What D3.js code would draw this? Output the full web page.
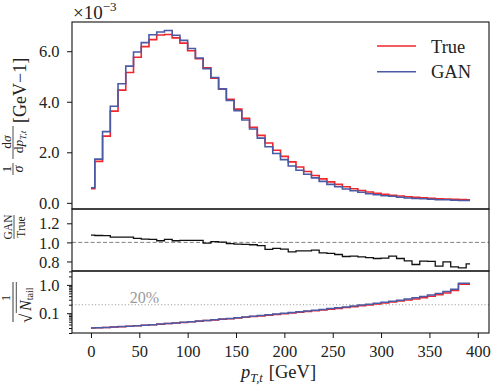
<!DOCTYPE html>
<html><head><meta charset="utf-8">
<script src="https://cdn.jsdelivr.net/npm/d3@7"></script>
<style>
body{margin:0;background:#fff;}
text{font-family:"Liberation Serif","Times New Roman",serif;fill:#222;}
</style></head>
<body><svg id="c" width="497" height="391"></svg>
<script>
// ---- data ----
const ptCenters = d3.range(0, 393, 8); // 0..392, 50 points
const trueVals = [0.56,1.64,2.64,3.63,4.46,5.16,5.76,6.18,6.46,6.64,
  6.66,6.53,6.32,6.02,5.70,5.34,4.93,4.50,4.10,3.71,
  3.35,2.99,2.67,2.37,2.08,1.84,1.62,1.42,1.24,1.08,
  0.95,0.83,0.73,0.64,0.56,0.49,0.43,0.38,0.34,0.30,
  0.27,0.24,0.22,0.20,0.18,0.16,0.15,0.14,0.13,0.12];
const ganVals = [0.60,1.73,2.82,3.82,4.71,5.41,5.97,6.34,6.65,6.76,
  6.82,6.63,6.43,6.11,5.73,5.31,4.96,4.51,4.05,3.65,
  3.28,2.92,2.56,2.22,1.95,1.71,1.46,1.29,1.13,0.99,
  0.85,0.73,0.64,0.55,0.48,0.42,0.36,0.32,0.28,0.26,
  0.22,0.19,0.17,0.16,0.14,0.12,0.12,0.10,0.095,0.093];
const ratioVals = [1.077,1.072,1.070,1.056,1.056,1.056,1.042,1.035,1.031,1.017,
  1.031,1.017,1.021,1.021,1.021,0.993,1.007,1.003,0.986,0.982,
  0.979,0.975,0.965,0.926,0.937,0.930,0.900,0.910,0.912,0.918,
  0.890,0.884,0.873,0.852,0.856,0.849,0.840,0.831,0.835,0.856,
  0.831,0.807,0.768,0.803,0.800,0.751,0.796,0.743,0.733,0.775];
const tailGAN = [0.0300,0.0309,0.0316,0.0325,0.0336,0.0348,0.0362,0.0378,0.0394,0.0413,
  0.0434,0.0455,0.0478,0.0502,0.0528,0.0557,0.0587,0.0619,0.0655,0.0692,
  0.0733,0.0776,0.0824,0.0875,0.0929,0.0989,0.105,0.112,0.119,0.127,
  0.136,0.146,0.156,0.167,0.180,0.194,0.209,0.226,0.245,0.266,
  0.290,0.318,0.351,0.389,0.44,0.50,0.58,0.70,1.15,1.15];
const tailTrue = [0.0300,0.0308,0.0315,0.0324,0.0335,0.0347,0.0360,0.0376,0.0392,0.0410,
  0.0430,0.0451,0.0473,0.0497,0.0522,0.0550,0.0579,0.0610,0.0644,0.0680,
  0.0718,0.0760,0.0805,0.0853,0.0905,0.0962,0.102,0.108,0.115,0.122,
  0.130,0.139,0.148,0.158,0.170,0.182,0.196,0.211,0.228,0.247,
  0.268,0.292,0.320,0.352,0.395,0.45,0.52,0.63,1.06,1.06];
const xTicks = [0,50,100,150,200,250,300,350,400];
const mainTicks = [0,2,4,6];
const ratioTicks = [0.8,1.0,1.2];
const tailMajor = [0.1,1];
const tailMinor = [0.02,0.03,0.04,0.05,0.06,0.07,0.08,0.09,0.2,0.3,0.4,0.5,0.6,0.7,0.8,0.9,2,3];
const legendItems = [{label:"True", color:"#f0262d"},{label:"GAN", color:"#4b5aa5"}];

// ---- layout ----
const L=72, R=489, T=22, B1=209, B2=271, B3=333;
const svg = d3.select("#c");
const x = d3.scaleLinear().domain([-19.6, 411.6]).range([L, R]);
const allMain = trueVals.concat(ganVals);
const mn = d3.min(allMain), mx = d3.max(allMain), pad = (mx-mn)*0.05;
const yMain = d3.scaleLinear().domain([mn-pad, mx+pad]).range([B1, T]);
const yRatio = d3.scaleLinear().domain([0.70, 1.35]).range([B2, B1]);
const yTail = d3.scaleLog().domain([0.02, 3.1]).range([B3, B2]);

function stepLine(ys, ysc){
  return d3.line().curve(d3.curveStep).x((d,i)=>x(ptCenters[i])).y(d=>ysc(d))(ys);
}
function clip(id, y0, y1){
  svg.append("clipPath").attr("id",id).append("rect").attr("x",L).attr("y",y0).attr("width",R-L).attr("height",y1-y0);
}
clip("c1",T,B1); clip("c2",B1,B2); clip("c3",B2,B3);

// main panel
const g1 = svg.append("g").attr("clip-path","url(#c1)");
g1.append("path").attr("d",stepLine(trueVals,yMain)).attr("fill","none").attr("stroke",legendItems[0].color).attr("stroke-width",1.6);
g1.append("path").attr("d",stepLine(ganVals,yMain)).attr("fill","none").attr("stroke",legendItems[1].color).attr("stroke-width",1.6);

// ratio panel
const g2 = svg.append("g").attr("clip-path","url(#c2)");
g2.append("line").attr("x1",L).attr("x2",R).attr("y1",yRatio(1)).attr("y2",yRatio(1))
  .attr("stroke","#808080").attr("stroke-width",1).attr("stroke-dasharray","4,2.2");
g2.append("path").attr("d",stepLine(ratioVals,yRatio)).attr("fill","none").attr("stroke","#111").attr("stroke-width",1.3);

// tail panel
const g3 = svg.append("g").attr("clip-path","url(#c3)");
g3.append("line").attr("x1",L).attr("x2",R).attr("y1",yTail(0.2)).attr("y2",yTail(0.2))
  .attr("stroke","#999").attr("stroke-width",1.1).attr("stroke-dasharray","1.1,2.2");
g3.append("path").attr("d",stepLine(tailTrue,yTail)).attr("fill","none").attr("stroke",legendItems[0].color).attr("stroke-width",1.5);
g3.append("path").attr("d",stepLine(tailGAN,yTail)).attr("fill","none").attr("stroke",legendItems[1].color).attr("stroke-width",1.5);
svg.append("text").attr("x",x(40)).attr("y",yTail(0.2)-2).attr("font-size",16).style("fill","#999").text("20%");

// frames
[[T,B1],[B1,B2],[B2,B3]].forEach(([a,b])=>{
  svg.append("rect").attr("x",L).attr("y",a).attr("width",R-L).attr("height",b-a)
    .attr("fill","none").attr("stroke","#111").attr("stroke-width",1.1);
});

// axes
function styleAxis(g){ g.select(".domain").remove(); g.selectAll("line").attr("stroke","#111").attr("stroke-width",1); }
const ax = svg.append("g").attr("transform",`translate(0,${B3})`)
  .call(d3.axisBottom(x).tickValues(xTicks).tickSize(5).tickFormat(d3.format("d")));
styleAxis(ax);
ax.selectAll("text").attr("y",24).attr("dy",0).attr("font-size",16.5).style("fill","#222");

function yAxis(scale, ticks, fmt){
  const g = svg.append("g").attr("transform",`translate(${L},0)`)
    .call(d3.axisLeft(scale).tickValues(ticks).tickSize(5).tickFormat(fmt));
  styleAxis(g);
  g.selectAll("text").attr("x",-12.5).attr("dy","0.34em").attr("font-size",16.5).style("fill","#222");
  return g;
}
yAxis(yMain, mainTicks, d3.format(".1f"));
yAxis(yRatio, ratioTicks, d3.format(".1f"));
yAxis(yTail, tailMajor, d3.format(".1f"));
const gm = svg.append("g").attr("transform",`translate(${L},0)`)
  .call(d3.axisLeft(yTail).tickValues(tailMinor).tickSize(3).tickFormat(""));
styleAxis(gm);

// x10^-3
const ex = svg.append("text").attr("x",L+1).attr("y",19).attr("font-size",19);
ex.append("tspan").text("×10");
ex.append("tspan").attr("font-size",13).attr("dy",-8).text("−3");

// legend
legendItems.forEach((d,i)=>{
  const yy = 46 + i*25.7;
  svg.append("line").attr("x1",377).attr("x2",416).attr("y1",yy).attr("y2",yy).attr("stroke",d.color).attr("stroke-width",1.6);
  svg.append("text").attr("x",431).attr("y",yy+6.5).attr("font-size",18.5).text(d.label);
});

// x label
const xl = svg.append("text").attr("x",(L+R)/2-2).attr("y",378).attr("text-anchor","middle").attr("font-size",18.5);
xl.append("tspan").attr("font-style","italic").text("p");
xl.append("tspan").attr("font-size",12.5).attr("font-style","italic").attr("dy",4).text("T,t");
xl.append("tspan").attr("dy",-4).attr("dx",6).text("[GeV]");

// y label main
const yl = svg.append("g").attr("transform","translate(0,117) rotate(-90)");
yl.append("text").attr("x",-6).attr("y",25.5).attr("font-size",18).text("[GeV−1]");
// 1/sigma
yl.append("text").attr("x",-52).attr("y",10.5).attr("text-anchor","middle").attr("font-size",13.5).text("1");
yl.append("line").attr("x1",-58).attr("x2",-46).attr("y1",13).attr("y2",13).attr("stroke","#222").attr("stroke-width",0.8);
yl.append("text").attr("x",-52).attr("y",23).attr("text-anchor","middle").attr("font-size",14).attr("font-style","italic").text("σ");
// dsigma / dp_T,t
yl.append("text").attr("x",-25).attr("y",10.5).attr("text-anchor","middle").attr("font-size",13.5).html('d<tspan font-style="italic">σ</tspan>');
yl.append("line").attr("x1",-42).attr("x2",-9).attr("y1",13).attr("y2",13).attr("stroke","#222").attr("stroke-width",0.8);
const den = yl.append("text").attr("x",-25).attr("y",23).attr("text-anchor","middle").attr("font-size",13.5);
den.append("tspan").text("d");
den.append("tspan").attr("font-style","italic").text("p");
den.append("tspan").attr("font-style","italic").attr("font-size",9).attr("dy",2.5).text("T,t");

// ratio y label
const rl = svg.append("g").attr("transform","translate(0,227) rotate(-90)");
rl.append("text").attr("x",0).attr("y",11.8).attr("text-anchor","middle").attr("font-size",11.5).text("GAN");
rl.append("line").attr("x1",-12).attr("x2",12).attr("y1",14).attr("y2",14).attr("stroke","#222").attr("stroke-width",0.8);
rl.append("text").attr("x",0).attr("y",25).attr("text-anchor","middle").attr("font-size",11.5).text("True");

// tail y label
const tl = svg.append("g").attr("transform","translate(0,302) rotate(-90)");
tl.append("text").attr("x",4).attr("y",9.5).attr("text-anchor","middle").attr("font-size",12).text("1");
tl.append("line").attr("x1",-20).attr("x2",20).attr("y1",13).attr("y2",13).attr("stroke","#222").attr("stroke-width",0.9);
tl.append("text").attr("x",-21).attr("y",31.5).attr("font-size",17).text("√");
tl.append("line").attr("x1",-11).attr("x2",20).attr("y1",16.3).attr("y2",16.3).attr("stroke","#222").attr("stroke-width",0.8);
const nt = tl.append("text").attr("x",-9).attr("y",30.5).attr("font-size",16);
nt.append("tspan").attr("font-style","italic").text("N");
nt.append("tspan").attr("font-size",10).attr("dy",2).text("tail");
</script></body></html>
